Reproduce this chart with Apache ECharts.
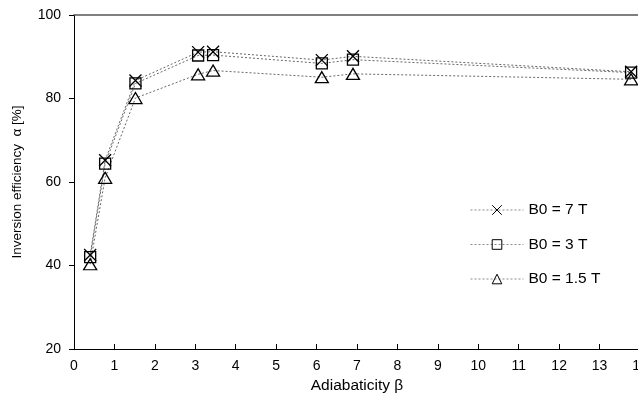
<!DOCTYPE html>
<html>
<head>
<meta charset="utf-8">
<script src="https://cdn.jsdelivr.net/npm/echarts@6/dist/echarts.min.js"></script>
<style>html,body{margin:0;padding:0;background:#fff;}#c{width:638px;height:408px;}</style>
</head>
<body>
<div id="c"></div>
<script>
var betaValues = [0.4, 0.77, 1.52, 3.07, 3.44, 6.13, 6.9, 13.78];
var eff7T = [42.5, 65.2, 84.3, 91.1, 91.2, 89.2, 90.1, 86.4];
var eff3T = [42.0, 64.4, 83.6, 90.3, 90.4, 88.4, 89.3, 86.2];
var eff15T = [40.3, 61.0, 80.1, 85.8, 86.7, 85.1, 85.9, 84.6];
var seriesNames = ['B0 = 7 T', 'B0 = 3 T', 'B0 = 1.5 T'];
var xTicks = [0, 14, 1];
var yTicks = [20, 100, 20];

function pairs(ys) { return betaValues.map(function (x, i) { return [x, ys[i]]; }); }

var font = 'Liberation Sans, Arial, sans-serif';
var crossPath = 'path://M0,0L10,10M10,0L0,10';

function mk(name, data, symbol, size) {
  return {
    name: name, type: 'line', data: pairs(data),
    symbol: symbol, symbolSize: size,
    lineStyle: { color: '#666', width: 1, type: [2, 2] },
    itemStyle: { color: 'rgba(0,0,0,0)', borderColor: '#000', borderWidth: 1.3 },
    emphasis: { disabled: true },
    animation: false
  };
}

var chart = echarts.init(document.getElementById('c'));
chart.setOption({
  animation: false,
  grid: { left: 74, right: -2, top: 15, bottom: 59, containLabel: false, outerBoundsMode: 'none' },
  xAxis: [{
    type: 'value', min: xTicks[0], max: xTicks[1], interval: xTicks[2],
    name: 'Adiabaticity β', nameLocation: 'middle', nameGap: 29,
    nameTextStyle: { fontFamily: font, fontSize: 15.5, color: '#000' },
    axisLine: { lineStyle: { color: '#000', width: 1 } },
    axisTick: { inside: true, length: 5, lineStyle: { color: '#000' } },
    axisLabel: { fontFamily: font, fontSize: 14, color: '#000', margin: 10 },
    splitLine: { show: false }
  }, {
    type: 'value', position: 'top', min: xTicks[0], max: xTicks[1],
    axisLine: { show: true, lineStyle: { color: '#555', width: 1.5 } },
    axisTick: { show: false }, axisLabel: { show: false }, splitLine: { show: false }
  }],
  yAxis: {
    type: 'value', min: yTicks[0], max: yTicks[1], interval: yTicks[2],
    name: 'Inversion efficiency  α [%]', nameLocation: 'middle', nameGap: 50,
    nameTextStyle: { fontFamily: font, fontSize: 13.5, color: '#000' },
    axisLine: { show: true, lineStyle: { color: '#000', width: 1 } },
    axisTick: { show: true, inside: false, length: 5, lineStyle: { color: '#000' } },
    axisLabel: { fontFamily: font, fontSize: 14, color: '#000', margin: 13 },
    splitLine: { show: false }
  },
  legend: {
    orient: 'vertical', left: 470, top: 202, itemWidth: 53, itemHeight: 12, itemGap: 18.5,
    textStyle: { fontFamily: font, fontSize: 15.5, color: '#000', padding: [0, 0, 0, 0] },
    itemStyle: { borderWidth: 1 },
    lineStyle: { color: '#888', width: 1 },
    padding: 0,
    data: seriesNames
  },
  series: [
    mk(seriesNames[0], eff7T, crossPath, 12),
    mk(seriesNames[1], eff3T, 'rect', 11),
    mk(seriesNames[2], eff15T, 'triangle', [13, 11])
  ]
});
</script>
</body>
</html>
